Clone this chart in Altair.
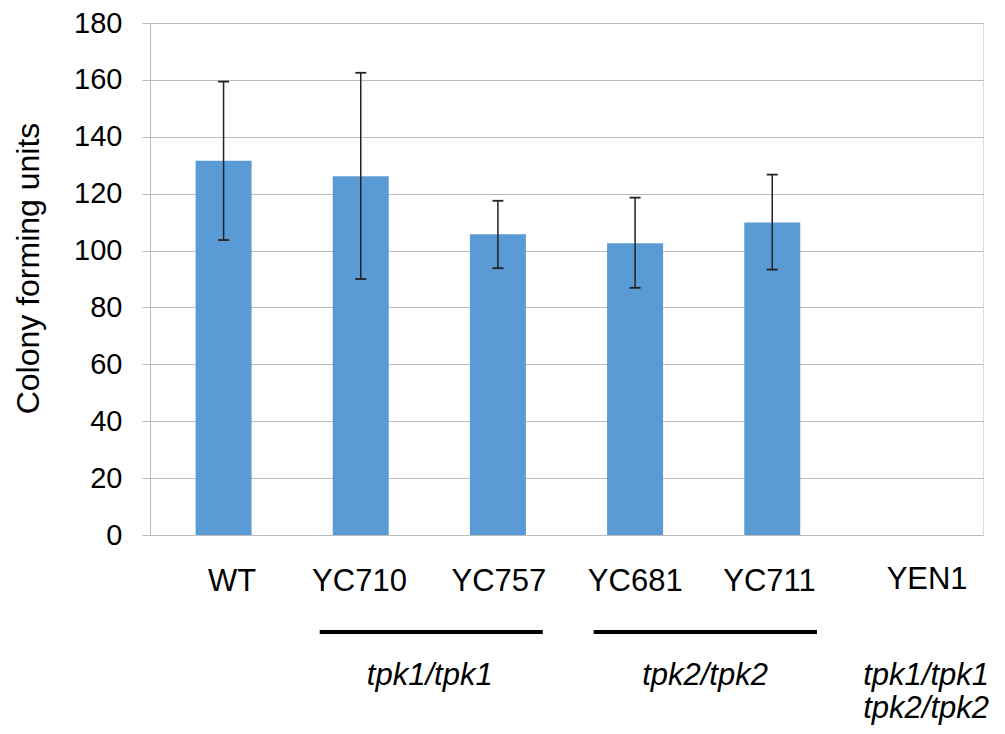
import altair as alt
import pandas as pd

# --- data ---
strains = ["WT", "YC710", "YC757", "YC681", "YC711", "YEN1"]
cfu_mean = [131.6, 126.1, 105.7, 102.6, 109.9, 0.0]
err_low = [103.7, 90.0, 93.8, 86.9, 93.3, None]
err_high = [159.4, 162.5, 117.5, 118.6, 126.7, None]
bar_slot = [0.5, 1.5, 2.5, 3.5, 4.5, 5.5]          # category slots on the x scale

label_slot = [0.562, 1.491, 2.507, 3.501, 4.480, 5.629]   # where the strain names sit
label_level = [-16.5, -16.5, -16.5, -16.5, -16.5, -15.9]

group_names = ["tpk1/tpk1", "tpk2/tpk2", "tpk1/tpk1", "tpk2/tpk2"]
group_slot = [2.003, 4.010, 5.622, 5.622]
group_level = [-49.6, -49.6, -49.6, -61.1]

line_start = [1.201, 3.198]
line_end = [2.827, 4.826]
line_level = [-34.1, -34.1]

FONT = "Liberation Sans"
BLUE = "#5B9BD5"
GRID = "#BCBCBC"

bars_df = pd.DataFrame({"strain": strains, "x": bar_slot, "cfu": cfu_mean,
                        "lo": err_low, "hi": err_high})
err_df = bars_df.dropna()
labels_df = pd.DataFrame({"label": strains, "x": label_slot, "y": label_level})
groups_df = pd.DataFrame({"label": group_names, "x": group_slot, "y": group_level})
lines_df = pd.DataFrame({"x": line_start, "x2": line_end, "y": line_level})

xscale = alt.Scale(domain=[0, 6], nice=False, zero=False)
yscale = alt.Scale(domain=[0, 180], nice=False)

base = alt.Chart(bars_df)

bars = base.mark_bar(color=BLUE, size=56).encode(
    x=alt.X("x:Q", scale=xscale, axis=None),
    y=alt.Y("cfu:Q", scale=yscale,
            axis=alt.Axis(title="Colony forming units", values=list(range(0, 181, 20)),
                          grid=True, gridColor=GRID, gridWidth=1,
                          tickColor=GRID, tickSize=8, domainColor=GRID, domainWidth=1,
                          labelFont=FONT, labelFontSize=29, labelColor="black",
                          labelPadding=20, titleFont=FONT, titleFontSize=32,
                          titleFontWeight="normal", titleColor="black", titlePadding=28,
                          titleY=245)),
)

err_base = alt.Chart(err_df)
err_line = err_base.mark_rule(color="#222222", strokeWidth=1.5).encode(
    x="x:Q", y="lo:Q", y2="hi:Q")
cap_top = err_base.transform_calculate(a="datum.x - 0.04", b="datum.x + 0.04").mark_rule(
    color="#222222", strokeWidth=1.8).encode(x="a:Q", x2="b:Q", y="hi:Q")
cap_bot = err_base.transform_calculate(a="datum.x - 0.04", b="datum.x + 0.04").mark_rule(
    color="#222222", strokeWidth=1.8).encode(x="a:Q", x2="b:Q", y="lo:Q")

strain_text = alt.Chart(labels_df).mark_text(
    font=FONT, fontSize=31, color="black", align="center", baseline="middle"
).encode(x="x:Q", y="y:Q", text="label:N")

group_text = alt.Chart(groups_df).mark_text(
    font=FONT, fontSize=31, fontStyle="italic", color="black", align="center", baseline="middle"
).encode(x="x:Q", y="y:Q", text="label:N")

group_lines = alt.Chart(lines_df).mark_rule(color="black", strokeWidth=4).encode(
    x="x:Q", x2="x2:Q", y="y:Q")

chart = alt.layer(bars, err_line, cap_top, cap_bot, strain_text, group_text, group_lines).properties(
    width=833, height=512,
    autosize=alt.AutoSizeParams(type="none"),
    padding={"left": 142, "top": 15, "right": 14, "bottom": 191},
).configure_view(stroke=None).configure(background="white")

chart.save("out.html", embed_options={"renderer": "svg", "actions": False})
